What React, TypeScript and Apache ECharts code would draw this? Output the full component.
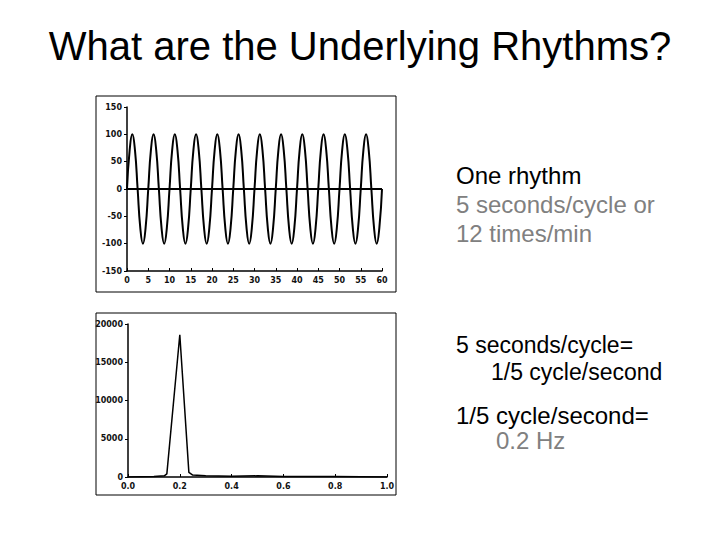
import React, { useEffect, useRef } from "react";
import * as echarts from "echarts";

const titleText = "What are the Underlying Rhythms?";

// Panel 1: time signal (seconds), sampled every 0.625 s
const sineStep = 0.625;
const sineValues = [
  0, 71, 100, 71, 0, -71, -100, -71,
  0, 71, 100, 71, 0, -71, -100, -71,
  0, 71, 100, 71, 0, -71, -100, -71,
  0, 71, 100, 71, 0, -71, -100, -71,
  0, 71, 100, 71, 0, -71, -100, -71,
  0, 71, 100, 71, 0, -71, -100, -71,
  0, 71, 100, 71, 0, -71, -100, -71,
  0, 71, 100, 71, 0, -71, -100, -71,
  0, 71, 100, 71, 0, -71, -100, -71,
  0, 71, 100, 71, 0, -71, -100, -71,
  0, 71, 100, 71, 0, -71, -100, -71,
  0, 71, 100, 71, 0, -71, -100, -71,
  0,
];
const zeroLineX = [0, 60];
const zeroLineY = [0, 0];

// Panel 2: spectrum
const freqs = [0, 0.05, 0.1, 0.14, 0.15, 0.2, 0.235, 0.25, 0.3, 0.4, 0.5, 0.6, 0.8, 1.0];
const powers = [0, 40, 60, 150, 400, 18600, 600, 250, 150, 100, 150, 80, 50, 0];

const textLines = [
  { text: "One rhythm", x: 456, y: 175, color: "#000000", size: 24 },
  { text: "5 seconds/cycle or", x: 456, y: 204, color: "#808080", size: 24 },
  { text: "12 times/min", x: 456, y: 233, color: "#808080", size: 24 },
  { text: "5 seconds/cycle=", x: 456, y: 345, color: "#000000", size: 23 },
  { text: "1/5 cycle/second", x: 491, y: 372, color: "#000000", size: 23 },
  { text: "1/5 cycle/second=", x: 456, y: 415, color: "#000000", size: 24 },
  { text: "0.2 Hz", x: 496, y: 440, color: "#808080", size: 24 },
];

export default function App() {
  const ref = useRef<HTMLDivElement>(null);
  useEffect(() => {
    if (!ref.current) return;
    const chart = echarts.init(ref.current, null, { renderer: "svg" });
    const sineData = sineValues.map((v, i) => [i * sineStep, v]);
    const zeroData = zeroLineX.map((x, i) => [x, zeroLineY[i]]);
    const specData = freqs.map((f, i) => [f, powers[i]]);
    const axisLabel = {
      color: "#111",
      fontFamily: "DejaVu Sans",
      fontSize: 8,
      fontWeight: "bold" as const,
    };
    const axisLine = { show: true, onZero: false, lineStyle: { color: "#000", width: 1.5 } };
    chart.setOption({
      animation: false,
      backgroundColor: "#ffffff",
      grid: [
        { left: 127, top: 107, width: 255, height: 164 },
        { left: 128, top: 324, width: 259, height: 153 },
      ],
      xAxis: [
        {
          gridIndex: 0, type: "value", min: 0, max: 60, interval: 5,
          axisLine, splitLine: { show: false },
          axisTick: { show: true, inside: true, length: 3, lineStyle: { color: "#000" } },
          axisLabel: { ...axisLabel, margin: 5 },
        },
        {
          gridIndex: 1, type: "value", min: 0, max: 1, interval: 0.2,
          axisLine, splitLine: { show: false },
          axisTick: { show: true, inside: true, length: 3, lineStyle: { color: "#000" } },
          axisLabel: { ...axisLabel, margin: 5, formatter: (v: number) => v.toFixed(1) },
        },
      ],
      yAxis: [
        {
          gridIndex: 0, type: "value", min: -150, max: 150, interval: 50,
          axisLine, splitLine: { show: false },
          axisTick: { show: true, length: 3, lineStyle: { color: "#000" } },
          axisLabel: { ...axisLabel, margin: 5, formatter: (v: number) => String(v) },
        },
        {
          gridIndex: 1, type: "value", min: 0, max: 20000, interval: 5000,
          axisLine, splitLine: { show: false },
          axisTick: { show: true, length: 3, lineStyle: { color: "#000" } },
          axisLabel: { ...axisLabel, margin: 5, formatter: (v: number) => String(v) },
        },
      ],
      series: [
        {
          type: "line", xAxisIndex: 0, yAxisIndex: 0, data: sineData,
          smooth: true, showSymbol: false, lineStyle: { color: "#000", width: 2 },
        },
        {
          type: "line", xAxisIndex: 0, yAxisIndex: 0, data: zeroData,
          showSymbol: false, lineStyle: { color: "#000", width: 2 },
        },
        {
          type: "line", xAxisIndex: 1, yAxisIndex: 1, data: specData,
          showSymbol: false, lineStyle: { color: "#000", width: 1.5 },
        },
      ],
      graphic: [
        {
          type: "text", x: 360, y: 46,
          style: {
            text: titleText, fontFamily: "Liberation Sans", fontSize: 40, fill: "#000",
            align: "center", verticalAlign: "middle",
          },
        },
        {
          type: "rect", shape: { x: 96, y: 96, width: 300, height: 196 },
          style: { fill: "none", stroke: "#000", lineWidth: 1 },
        },
        {
          type: "rect", shape: { x: 96, y: 313, width: 300, height: 182 },
          style: { fill: "none", stroke: "#000", lineWidth: 1 },
        },
        ...textLines.map((t) => ({
          type: "text", x: t.x, y: t.y,
          style: {
            text: t.text, fontFamily: "Liberation Sans", fontSize: t.size,
            fill: t.color, verticalAlign: "middle", align: "left",
          },
        })),
      ],
    });
    return () => chart.dispose();
  }, []);
  return (
    <div
      ref={ref}
      style={{ position: "absolute", left: 0, top: 0, width: 720, height: 540 }}
    />
  );
}
